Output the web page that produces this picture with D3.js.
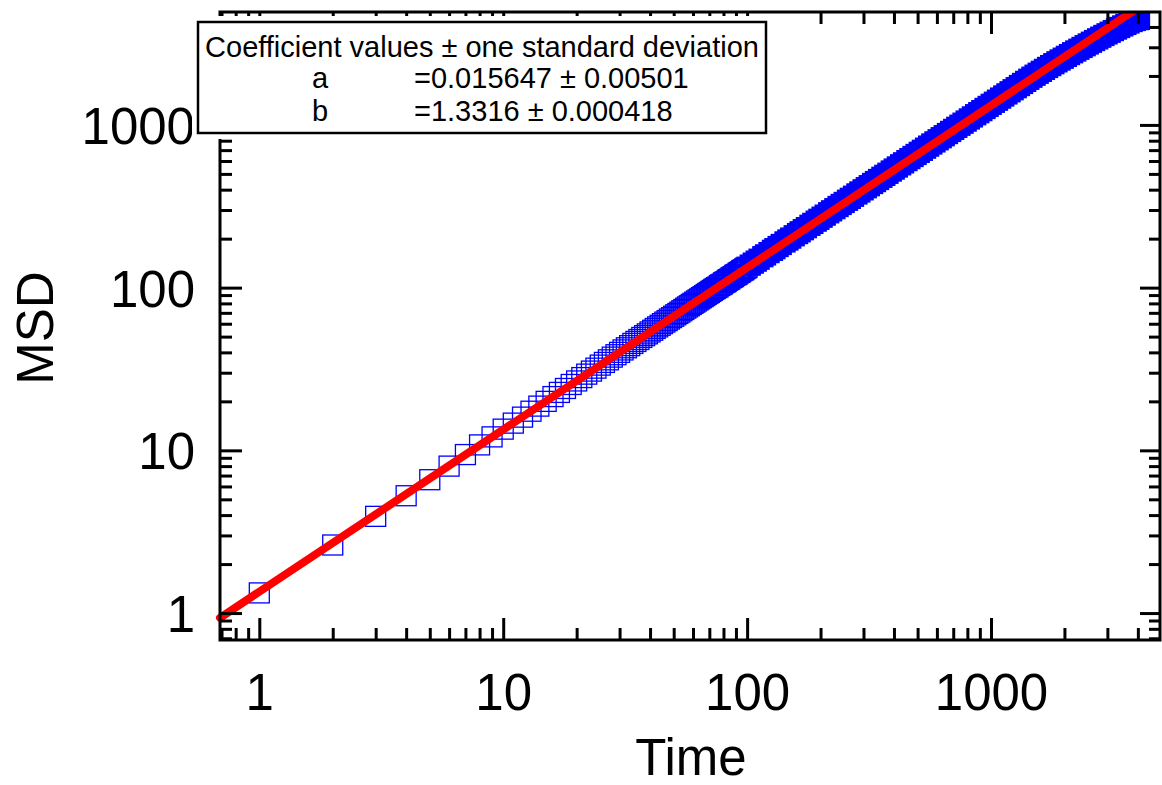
<!DOCTYPE html>
<html>
<head>
<meta charset="utf-8">
<script src="https://cdn.jsdelivr.net/npm/d3@7"></script>
<style>
  html, body { margin: 0; padding: 0; background: #fff; }
  svg text { font-family: "Liberation Sans", Arial, Helvetica, sans-serif; fill: #000; }
</style>
</head>
<body>
<div id="chart"></div>
<script>
// MSD vs lag time
const timeValues = [
  1, 2, 3, 4, 5, 6, 7, 8, 9, 10, 11, 12, 13, 14, 15, 16, 17, 18, 19, 20,
  21, 22, 23, 24, 25, 26, 27, 28, 29, 30, 31, 32, 33, 34, 35, 36, 37, 38, 39, 40,
  41, 42, 43, 44, 45, 46, 47, 48, 49, 50, 51, 52, 53, 54, 55, 56, 57, 58, 59, 60,
  61, 62, 63, 64, 65, 66, 67, 68, 69, 70, 71, 72, 73, 74, 75, 76, 77, 78, 79, 80,
  81, 82, 83, 84, 85, 86, 87, 88, 89, 90, 91, 92, 93, 94, 95, 96, 97, 98, 99, 100,
  103, 106, 109, 112, 116, 119, 123, 127, 130, 134, 138, 143, 147, 151, 156, 161,
  165, 170, 175, 181, 186, 192, 197, 203, 209, 216, 222, 229, 236, 243, 250, 258,
  265, 273, 282, 290, 299, 308, 317, 327, 336, 346, 357, 367, 378, 390, 401, 413,
  426, 438, 452, 465, 479, 493, 508, 523, 539, 555, 572, 589, 607, 625, 643, 663,
  683, 703, 724, 746, 768, 791, 815, 839, 865, 891, 917, 945, 973, 1002, 1032, 1063,
  1095, 1128, 1162, 1197, 1232, 1269, 1308, 1347, 1387, 1429, 1472, 1516, 1561, 1608,
  1656, 1706, 1757, 1810, 1864, 1920, 1978, 2037, 2098, 2161, 2226, 2293, 2362, 2432,
  2505, 2580, 2658, 2738, 2820, 2904, 2991, 3081, 3174, 3269, 3367, 3468, 3572, 3679,
  3790, 3903, 4020, 4062
];
const msdValues = [
  1.33, 2.62, 3.93, 5.26, 6.6, 8.0, 9.42, 10.8, 12.1, 13.5, 14.7, 16.0, 17.4, 18.7, 20.0, 21.4, 22.7, 24.0, 25.4, 26.7,
  28.0, 29.4, 30.7, 32.0, 33.4, 34.7, 36.0, 37.4, 38.7, 40.0, 41.4, 42.7, 44.0, 45.4, 46.7, 48.0, 49.4, 50.7, 52.0, 53.4,
  54.7, 56.1, 57.4, 58.7, 60.1, 61.4, 62.7, 64.1, 65.4, 66.7, 68.1, 69.4, 70.7, 72.1, 73.4, 74.8, 76.1, 77.4, 78.8, 80.1,
  81.4, 82.8, 84.1, 85.4, 86.8, 88.1, 89.4, 90.8, 92.1, 93.4, 94.8, 96.1, 97.5, 98.8, 100, 101, 103, 104, 105, 107,
  108, 109, 111, 112, 113, 115, 116, 117, 119, 120, 121, 123, 124, 125, 127, 128, 129, 131, 132, 133.5,
  137.5, 141.5, 145.5, 149.5, 154.9, 158.9, 164.2, 169.5, 173.6, 178.9, 184.2, 190.9, 196.2, 201.6, 208.3, 214.9,
  220.3, 227.0, 233.6, 241.6, 248.3, 256.3, 263.0, 271.0, 279.0, 288.4, 296.4, 305.7, 315.1, 324.4, 333.8, 344.4,
  353.8, 364.5, 376.5, 387.2, 399.2, 411.2, 423.2, 436.5, 448.6, 461.9, 476.6, 489.9, 504.6, 520.7, 535.3, 551.4,
  568.7, 584.7, 603.4, 620.8, 639.5, 658.2, 678.2, 698.2, 719.6, 740.9, 763.6, 786.3, 810.3, 834.4, 858.4, 885.1,
  911.8, 938.5, 966.5, 995.9, 1025, 1056, 1088, 1120, 1155, 1189, 1224, 1262, 1299, 1338, 1378, 1419,
  1462, 1506, 1551, 1598, 1645, 1694, 1746, 1798, 1852, 1908, 1965, 2021, 2078, 2135,
  2194, 2255, 2316, 2378, 2442, 2506, 2571, 2638, 2706, 2777, 2847, 2919, 2993, 3067,
  3144, 3222, 3301, 3381, 3463, 3546, 3628, 3713, 3799, 3884, 3970, 4058, 4144, 4231,
  4320, 4385, 4440, 4455
];

// power-law fit line, end points
const fitTime = [0.69, 3890];
const fitMsd = [0.935, 5085];

const majorTicks = [1, 10, 100, 1000];
const minorTicks = [0.7, 0.8, 0.9, 2, 3, 4, 5, 6, 7, 8, 9, 20, 30, 40, 50, 60, 70, 80, 90,
  200, 300, 400, 500, 600, 700, 800, 900, 2000, 3000, 4000];

const legendTitle = "Coefficient values \u00b1 one standard deviation";
const coefNames = ["a", "b"];
const coefTexts = ["=0.015647 \u00b1 0.00501", "=1.3316 \u00b1 0.000418"];

const data = timeValues.map((t, i) => ({ t: t, msd: msdValues[i] }));

const W = 1162, H = 785;
const margin = { top: 12, right: 2, bottom: 145, left: 220 };
const width = W - margin.left - margin.right;
const height = H - margin.top - margin.bottom;

const svgRoot = d3.select("#chart").append("svg")
  .attr("width", W)
  .attr("height", H);

const svg = svgRoot.append("g")
  .attr("transform", `translate(${margin.left},${margin.top})`);

const x = d3.scaleLog().domain([0.69, 4930]).range([0, width]);
const y = d3.scaleLog().domain([0.683, 4943]).range([height, 0]);

svg.append("defs").append("clipPath")
  .attr("id", "plot-clip")
  .append("rect")
  .attr("x", -12)
  .attr("y", 0)
  .attr("width", width + 12)
  .attr("height", height + 12);

const plot = svg.append("g").attr("clip-path", "url(#plot-clip)");

// squares: hollow at short lags, the dense tail is solid
const sq = 20;
plot.append("g")
  .selectAll("rect")
  .data(data)
  .enter()
  .append("rect")
  .attr("x", d => x(d.t) - sq / 2)
  .attr("y", d => y(d.msd) - sq / 2)
  .attr("width", sq)
  .attr("height", sq)
  .attr("fill", d => (d.t > 100 ? "#0000ff" : "none"))
  .attr("stroke", "#0000ff")
  .attr("stroke-width", 1.3);

// fit line
const line = d3.line()
  .x(d => x(d[0]))
  .y(d => y(d[1]));

plot.append("path")
  .datum(fitTime.map((t, i) => [t, fitMsd[i]]))
  .attr("d", line)
  .attr("fill", "none")
  .attr("stroke", "#ff0000")
  .attr("stroke-width", 8)
  .attr("stroke-linecap", "round");

// axes with inward ticks on all four sides
function styleAxis(g) {
  g.select(".domain").remove();
  g.selectAll("line").attr("stroke", "#000").attr("stroke-width", 3);
}

svg.append("g")
  .attr("transform", `translate(0,${height})`)
  .call(d3.axisBottom(x).tickValues(majorTicks).tickSize(-22).tickPadding(34)
    .tickFormat(d3.format("d")))
  .call(styleAxis)
  .call(g => g.selectAll("text").style("font-size", "51px"));

svg.append("g")
  .attr("transform", `translate(0,${height})`)
  .call(d3.axisBottom(x).tickValues(minorTicks).tickSize(-12).tickFormat(""))
  .call(styleAxis);

svg.append("g")
  .call(d3.axisLeft(y).tickValues(majorTicks).tickSize(-22).tickPadding(25)
    .tickFormat(d3.format("d")))
  .call(styleAxis)
  .call(g => g.selectAll("text").style("font-size", "51px").attr("dy", "0.36em"));

svg.append("g")
  .call(d3.axisLeft(y).tickValues(minorTicks).tickSize(-12).tickFormat(""))
  .call(styleAxis);

svg.append("g")
  .call(d3.axisTop(x).tickValues(majorTicks).tickSize(-22).tickFormat(""))
  .call(styleAxis);

svg.append("g")
  .call(d3.axisTop(x).tickValues(minorTicks).tickSize(-12).tickFormat(""))
  .call(styleAxis);

svg.append("g")
  .attr("transform", `translate(${width},0)`)
  .call(d3.axisRight(y).tickValues(majorTicks).tickSize(-20).tickFormat(""))
  .call(styleAxis);

svg.append("g")
  .attr("transform", `translate(${width},0)`)
  .call(d3.axisRight(y).tickValues(minorTicks).tickSize(-11).tickFormat(""))
  .call(styleAxis);

// frame
svg.append("rect")
  .attr("x", 0)
  .attr("y", 0)
  .attr("width", width)
  .attr("height", height)
  .attr("fill", "none")
  .attr("stroke", "#000")
  .attr("stroke-width", 3);

// axis titles
svgRoot.append("text")
  .attr("x", 691)
  .attr("y", 775)
  .attr("text-anchor", "middle")
  .style("font-size", "51px")
  .text("Time");

svgRoot.append("text")
  .attr("transform", "translate(53,328) rotate(-90)")
  .attr("text-anchor", "middle")
  .style("font-size", "51px")
  .text("MSD");

// coefficient box
const box = svgRoot.append("g");
box.append("rect")
  .attr("x", 192).attr("y", 16)
  .attr("width", 580).attr("height", 123)
  .attr("fill", "#fff");
box.append("rect")
  .attr("x", 198).attr("y", 22)
  .attr("width", 568).attr("height", 111)
  .attr("fill", "#fff")
  .attr("stroke", "#000")
  .attr("stroke-width", 2.5);
box.append("text")
  .attr("x", 482).attr("y", 57)
  .attr("text-anchor", "middle")
  .style("font-size", "29px")
  .text(legendTitle);
coefNames.forEach((name, i) => {
  box.append("text")
    .attr("x", 320).attr("y", 88 + i * 33)
    .attr("text-anchor", "middle")
    .style("font-size", "29px")
    .text(name);
  box.append("text")
    .attr("x", 414).attr("y", 88 + i * 33)
    .style("font-size", "29px")
    .text(coefTexts[i]);
});
</script>
</body>
</html>
